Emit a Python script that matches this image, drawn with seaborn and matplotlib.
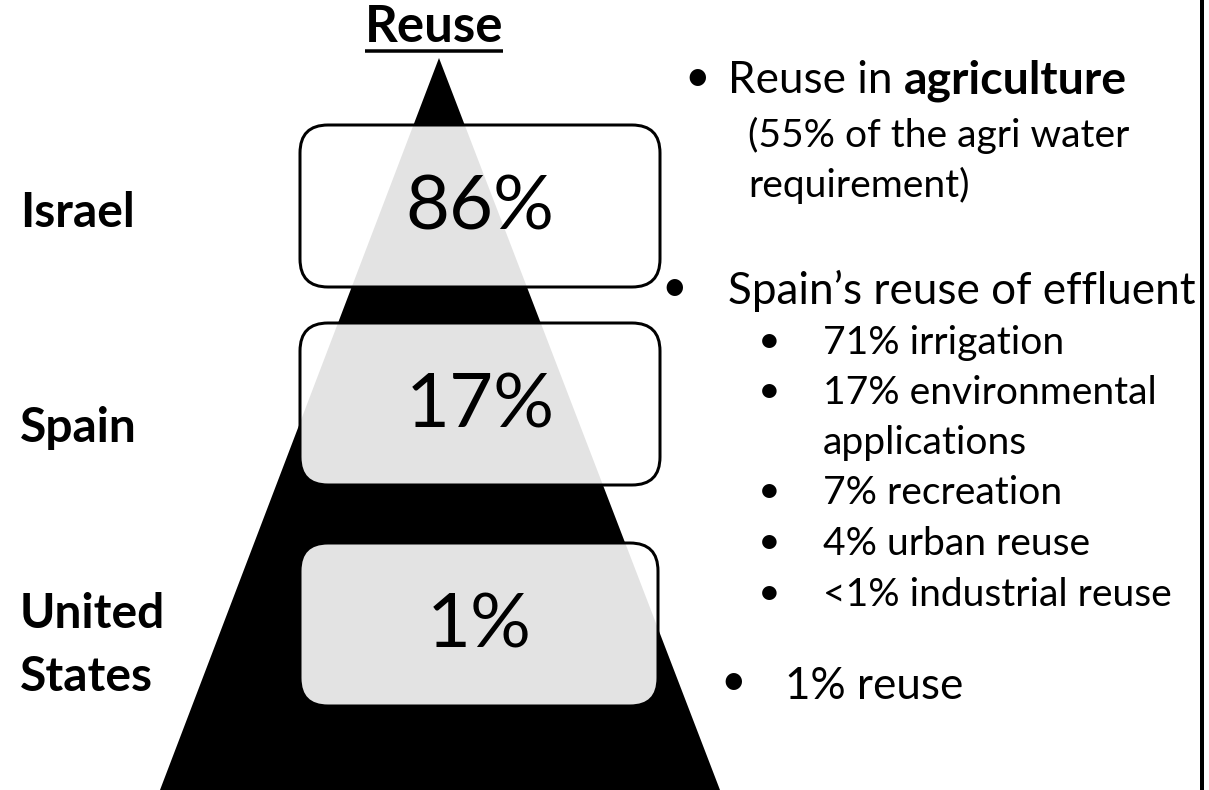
import matplotlib
matplotlib.use("Agg")
import matplotlib.pyplot as plt
from matplotlib.patches import FancyBboxPatch, Polygon
import seaborn as sns

# ---- data ----
countries = ["Israel", "Spain", "United\nStates"]
reuse_pct = [86, 17, 1]
title = "Reuse"
israel_note = ["(55% of the agri water", "requirement)"]
spain_head = "Spain\u2019s reuse of effluent"
spain_uses = ["71% irrigation", "17% environmental", "applications",
              "7% recreation", "4% urban reuse", "<1% industrial reuse"]
spain_bullet = [True, True, False, True, True, True]
us_note = "1% reuse"

sns.set_style("white")
plt.rcParams["font.family"] = ["Lato", "DejaVu Sans"]
plt.rcParams["text.color"] = "black"

W, H = 1209, 790
fig = plt.figure(figsize=(W / 100, H / 100), dpi=100)
ax = fig.add_axes([0, 0, 1, 1])
ax.set_xlim(0, W)
ax.set_ylim(H, 0)
ax.axis("off")

PT = 0.72  # px -> pt

# pyramid
apex = (439, 58)
ax.add_patch(Polygon([apex, (160, 790), (720, 790)], closed=True,
                     facecolor="black", edgecolor="none", zorder=1))

# boxes with percentages
boxes = [(300, 125, 360, 162), (300, 323, 360, 162), (300, 543, 358, 163)]
label_y = [[213], [428], [614, 677]]
for (x, y, w, h), pct, cname, ly in zip(boxes, reuse_pct, countries, label_y):
    ax.add_patch(FancyBboxPatch((x, y), w, h,
                                boxstyle="round,pad=0,rounding_size=28",
                                facecolor=(1, 1, 1, 0.895), edgecolor="black",
                                linewidth=3 * PT, zorder=2))
    ax.text(x + w / 2, y + h / 2 + 2, f"{pct}%", ha="center", va="center",
            fontsize=76 * PT, zorder=3)
    for line, yy in zip(cname.split("\n"), ly):
        ax.text(20, yy, line, ha="left", va="center", fontsize=48 * PT,
                fontweight="bold", zorder=3)

# title with underline
t = ax.text(434, 42, title, ha="center", va="baseline", fontsize=51 * PT,
            fontweight="bold")
fig.canvas.draw()
bb = t.get_window_extent().transformed(ax.transData.inverted())
ax.plot([bb.x0, bb.x1], [51, 51], color="black", lw=3.5 * PT,
        solid_capstyle="butt")

# right border
ax.plot([1202, 1202], [0, H], color="black", lw=4 * PT)

big = 44 * PT
small = 39 * PT

# Israel note
ax.text(697, 78, "\u2022", ha="center", va="center", fontsize=big)
t1 = ax.text(728, 93, "Reuse in ", ha="left", va="baseline", fontsize=big)
ax.annotate("agriculture", xy=(1, 0), xycoords=t1, xytext=(0, -1),
            textcoords="offset pixels", ha="left", va="bottom",
            fontsize=46.5 * PT, fontweight="bold")
ax.text(748, 147, israel_note[0], ha="left", va="baseline", fontsize=small)
ax.text(748, 197, israel_note[1], ha="left", va="baseline", fontsize=small)

# Spain
ax.text(674, 288, "\u2022", ha="center", va="center", fontsize=big)
ax.text(728, 304, spain_head, ha="left", va="baseline", fontsize=big)
ys = [354, 404, 454, 504, 555, 606]
for txt, b, yy in zip(spain_uses, spain_bullet, ys):
    if b:
        ax.text(769, yy - 13, "\u2022", ha="center", va="center", fontsize=small)
    ax.text(823, yy, txt, ha="left", va="baseline", fontsize=small)

# US
ax.text(733, 683, "\u2022", ha="center", va="center", fontsize=big)
ax.text(785, 699, us_note, ha="left", va="baseline", fontsize=big)

fig.savefig("out.png", dpi=100)
